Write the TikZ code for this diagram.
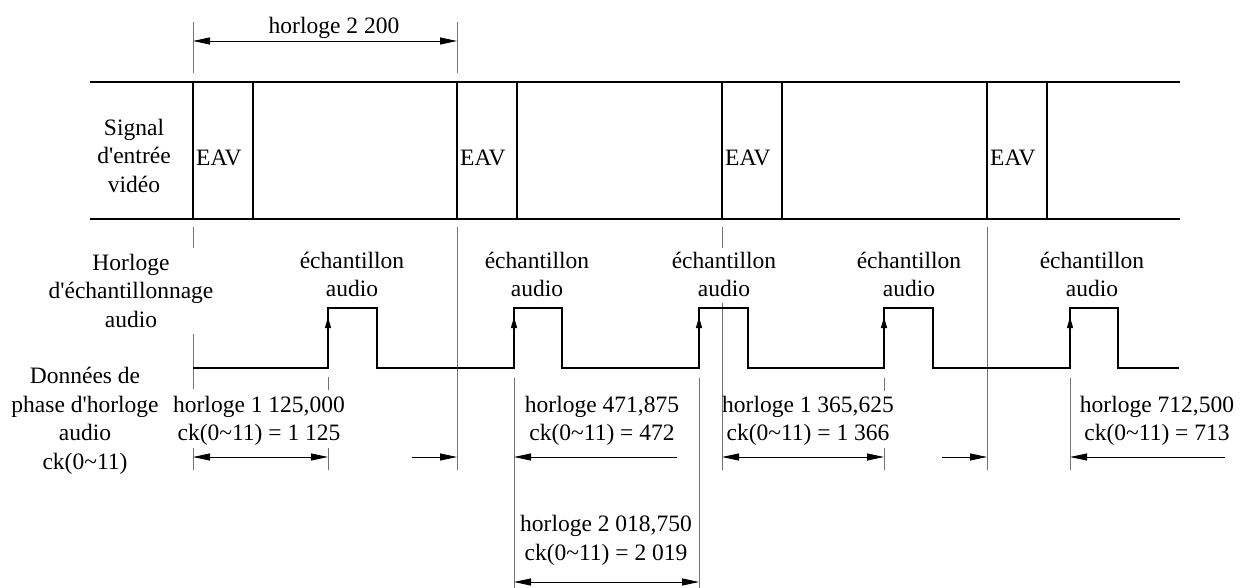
\documentclass[tikz,border=0pt]{standalone}
\usepackage{fontspec}
\setmainfont{Liberation Serif}[Ligatures=TeXOff]
\usetikzlibrary{arrows.meta}
\begin{document}
\begin{tikzpicture}[x=1pt,y=-1pt,
  lbl/.style={font=\fontsize{23.5}{28.5}\selectfont, align=center, inner sep=0pt},
  boxline/.style={line width=1.9pt},
  wave/.style={line width=1.3pt},
  guide/.style={draw=black!55, line width=0.9pt},
  dimboth/.style={line width=0.9pt, {Triangle[length=17pt,width=7pt]}-{Triangle[length=17pt,width=7pt]}},
  dimone/.style={line width=0.9pt, -{Triangle[length=17pt,width=7pt]}},
  uparrow/.style={line width=1.3pt, -{Triangle[length=11pt,width=6pt]}}
]
\useasboundingbox (0,0) rectangle (1240,588);

% ---- top dimension
\draw[guide] (193,22) -- (193,73);
\draw[guide] (457,22) -- (457,73);
\coordinate (t1) at (193,41);
\coordinate (t2) at (457,41);
\draw[dimboth] (t1) -- (t2);
\node[lbl, anchor=base] (ttop) at (334,34) {horloge 2 200};

% ---- video signal box
\draw[boxline] (90,82) -- (1180,82);
\draw[boxline] (90,219) -- (1180,219);
\foreach \x in {193,253,457,517,722,782,987,1047}
  \draw[boxline] (\x,82) -- (\x,219);
\node[lbl, anchor=west] (eav1) at (196,158) {EAV};
\node[lbl, anchor=west] (eav2) at (460,158) {EAV};
\node[lbl, anchor=west] (eav3) at (725,158) {EAV};
\node[lbl, anchor=west] (eav4) at (990,158) {EAV};

% ---- left labels
\node[lbl] (lsig) at (134,155.5) {Signal\\d'entrée\\vidéo};
\node[lbl] (lhor) at (131,290.5) {Horloge\\d'échantillonnage\\audio};
\node[lbl] (ldon) at (85,421) {Données de\\phase d'horloge\\audio\\ck(0\textasciitilde 11)};

% ---- guide lines
\draw[guide] (193,227) -- (193,248);
\draw[guide] (193,334) -- (193,389);
\draw[guide] (193,448) -- (193,470);
\draw[guide] (457,227) -- (457,470);
\draw[guide] (722,227) -- (722,248);
\draw[guide] (722,303) -- (722,470);
\draw[guide] (987,227) -- (987,470);
\draw[guide] (328,377) -- (328,390);
\draw[guide] (328,448) -- (328,470);
\draw[guide] (514,378) -- (514,588);
\draw[guide] (699,378) -- (699,588);
\draw[guide] (884,378) -- (884,391);
\draw[guide] (884,448) -- (884,470);
\draw[guide] (1070,378) -- (1070,470);

% ---- audio sampling clock
\draw[wave] (193,368) -- (328,368) -- (328,308) -- (377,308) -- (377,368)
  -- (514,368) -- (514,308) -- (562,308) -- (562,368)
  -- (699,368) -- (699,308) -- (748,308) -- (748,368)
  -- (884,368) -- (884,308) -- (933,308) -- (933,368)
  -- (1070,368) -- (1070,308) -- (1118,308) -- (1118,368) -- (1179,368);
\foreach \x in {328,514,699,884,1070}
  \draw[uparrow] (\x,340) -- (\x,317);

\node[lbl] (s1) at (352,274.5) {échantillon\\audio};
\node[lbl] (s2) at (537,274.5) {échantillon\\audio};
\node[lbl] (s3) at (724,274.5) {échantillon\\audio};
\node[lbl] (s4) at (909,274.5) {échantillon\\audio};
\node[lbl] (s5) at (1092,274.5) {échantillon\\audio};

% ---- phase data dimensions
\coordinate (a1) at (193,457);
\coordinate (a2) at (328,457);
\draw[dimboth] (a1) -- (a2);
\node[lbl] (p1) at (259,421) {horloge 1 125,000\\ck(0\textasciitilde 11) = 1 125};

\coordinate (b0) at (412,457);
\coordinate (b1) at (457,457);
\coordinate (b2) at (514,457);
\coordinate (b3) at (677,457);
\draw[dimone] (b0) -- (b1);
\draw[dimone] (b3) -- (b2);
\node[lbl] (p2) at (602,421) {horloge 471,875\\ck(0\textasciitilde 11) = 472};

\coordinate (c1) at (722,457);
\coordinate (c2) at (884,457);
\draw[dimboth] (c1) -- (c2);
\node[lbl] (p3) at (808,421) {horloge 1 365,625\\ck(0\textasciitilde 11) = 1 366};

\coordinate (e0) at (942,457);
\coordinate (e1) at (987,457);
\coordinate (e2) at (1070,457);
\coordinate (e3) at (1225,457);
\draw[dimone] (e0) -- (e1);
\draw[dimone] (e3) -- (e2);
\node[lbl] (p4) at (1157,421) {horloge 712,500\\ck(0\textasciitilde 11) = 713};

\coordinate (f1) at (514,582);
\coordinate (f2) at (699,582);
\draw[dimboth] (f1) -- (f2);
\node[lbl] (p5) at (606,540.5) {horloge 2 018,750\\ck(0\textasciitilde 11) = 2 019};
\end{tikzpicture}
\end{document}
